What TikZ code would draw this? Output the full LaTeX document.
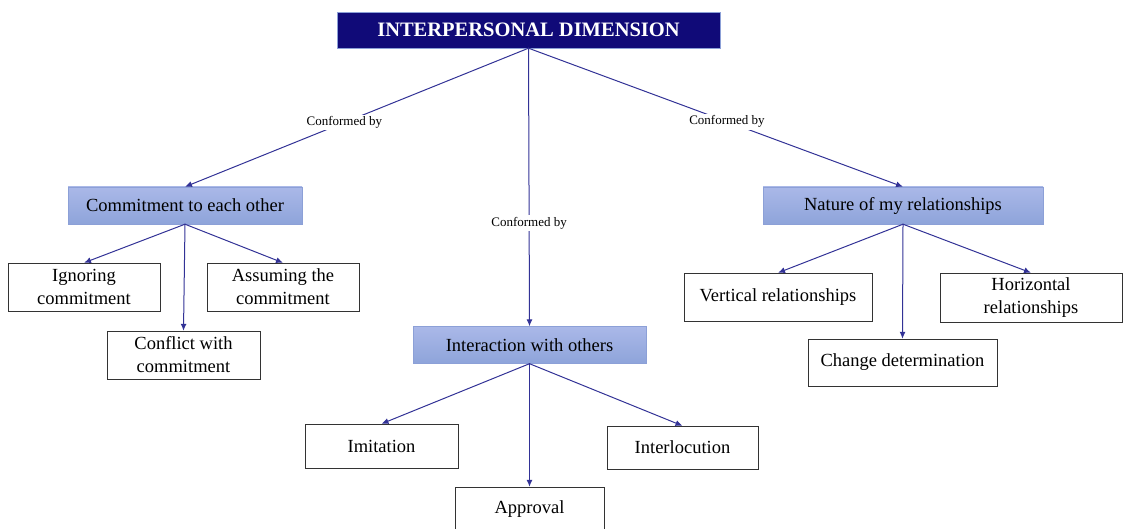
\documentclass[tikz,border=0pt]{standalone}
\usepackage{fontspec}
\setmainfont{Liberation Serif}
\usetikzlibrary{arrows.meta}
\definecolor{navybox}{RGB}{16,10,120}
\definecolor{linkblue}{RGB}{50,50,150}
\definecolor{grouptop}{RGB}{170,184,232}
\definecolor{groupbot}{RGB}{142,164,218}
\definecolor{groupedge}{RGB}{140,160,215}
\begin{document}
\begin{tikzpicture}[x=1pt, y=-1pt, line cap=round]
  \tikzset{mainbox/.style={fill=navybox, draw=groupedge, text=white, font=\fontsize{20.5}{24}\selectfont\bfseries, minimum width=383pt, minimum height=36pt, inner sep=0pt},
    groupbox/.style={top color=grouptop, bottom color=groupbot, draw=groupedge, font=\fontsize{18.5}{22}\selectfont, minimum height=37pt, inner sep=0pt},
    leafbox/.style={draw=black!80, fill=white, font=\fontsize{18.5}{23}\selectfont, align=center, minimum width=152pt, minimum height=48pt, inner sep=0pt},
    link/.style={draw=linkblue, line width=1pt, -{Latex[length=7pt,width=6pt]}},
    conf/.style={fill=white, font=\fontsize{13}{15}\selectfont, inner sep=2pt}}
  \useasboundingbox (0,0) rectangle (1124,529);
  % kop
  \node[mainbox] (dim) at (528.5,30) {INTERPERSONAL DIMENSION};
  % drie groepen
  \node[groupbox, minimum width=234pt] (commit) at (185,205.5) {Commitment to each other};
  \node[groupbox, minimum width=233pt] (inter) at (529.5,345) {Interaction with others};
  \node[groupbox, minimum width=280pt] (nature) at (903,205.5) {Nature of my relationships};
  % bladeren links
  \node[leafbox] (ignore) at (84,287) {Ignoring\\commitment};
  \node[leafbox] (assume) at (283,287) {Assuming the\\commitment};
  \node[leafbox, minimum width=153pt] (conflict) at (183.5,355) {Conflict with\\commitment};
  % bladeren midden
  \node[leafbox, minimum width=153pt, minimum height=44pt] (imit) at (381.5,446) {Imitation};
  \node[leafbox, minimum width=151pt, minimum height=43pt] (locut) at (682.5,447.5) {Interlocution};
  \node[leafbox, minimum width=149pt, minimum height=45pt] (approv) at (529.5,509.5) {Approval};
  % bladeren rechts
  \node[leafbox, minimum width=188pt] (vert) at (778,297) {Vertical relationships};
  \node[leafbox, minimum width=182pt, minimum height=49pt] (horiz) at (1031,297.5) {Horizontal\\relationships};
  \node[leafbox, minimum width=189pt, minimum height=47pt] (change) at (902.5,362.5) {Change determination};
  % verbindingen
  \draw[link] (dim.south) -- node[conf, pos=0.536] {Conformed by} (commit.north);
  \draw[link] (dim.south) -- node[conf, pos=0.63] {Conformed by} (inter.north);
  \draw[link] (dim.south) -- node[conf, pos=0.53] {Conformed by} (nature.north);
  \foreach \leaf in {ignore,assume,conflict} \draw[link] (commit.south) -- (\leaf.north);
  \foreach \leaf in {imit,locut,approv} \draw[link] (inter.south) -- (\leaf.north);
  \foreach \leaf in {vert,horiz,change} \draw[link] (nature.south) -- (\leaf.north);
\end{tikzpicture}
\end{document}
